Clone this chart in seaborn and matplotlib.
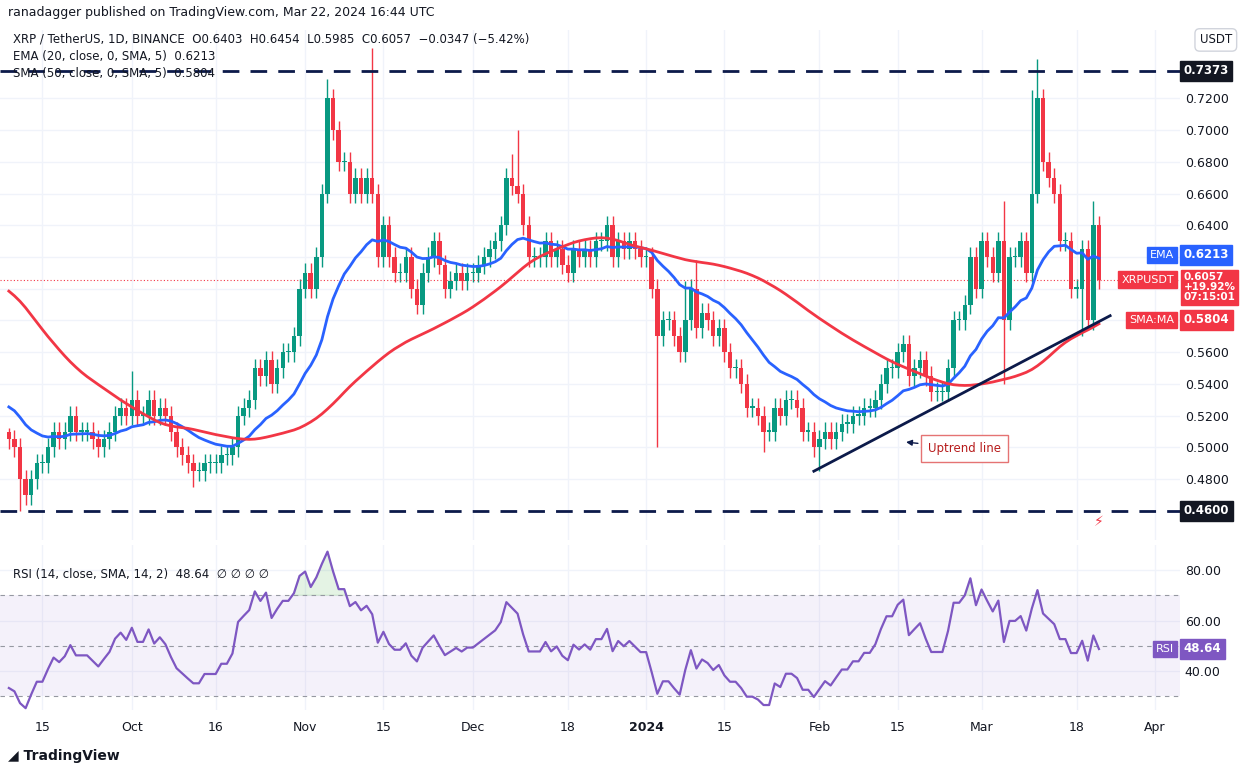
import numpy as np
import pandas as pd
import matplotlib
matplotlib.use("Agg")
import matplotlib.pyplot as plt
import matplotlib.dates as mdates
import seaborn as sns

# ---------------- data ----------------
pre_closes = [0.74, 0.72, 0.71, 0.71, 0.70, 0.72, 0.71, 0.70, 0.69, 0.70, 0.70, 0.68,
              0.63, 0.63, 0.62, 0.63, 0.64, 0.62, 0.63, 0.63, 0.64, 0.62, 0.63, 0.63,
              0.62, 0.61, 0.60, 0.59, 0.50, 0.52, 0.53, 0.53, 0.54, 0.53, 0.53, 0.52,
              0.53, 0.52, 0.52, 0.53, 0.54, 0.52, 0.51, 0.51, 0.50, 0.51, 0.50, 0.50,
              0.51, 0.51]
closes = [
    0.505, 0.50, 0.48, 0.47, 0.48, 0.49,
    0.49, 0.50, 0.51, 0.505, 0.51, 0.52, 0.51, 0.51, 0.51, 0.505, 0.50, 0.505, 0.51, 0.52, 0.525, 0.52,
    0.53, 0.52, 0.52, 0.53, 0.52, 0.525, 0.52, 0.51, 0.50, 0.495, 0.49, 0.485, 0.485, 0.49, 0.49,
    0.49, 0.495, 0.495, 0.50, 0.52, 0.525, 0.53, 0.55, 0.545, 0.555, 0.54, 0.55, 0.56, 0.56, 0.57, 0.60,
    0.61, 0.60, 0.62, 0.66, 0.72, 0.70, 0.68, 0.68, 0.66, 0.67, 0.66, 0.67, 0.66, 0.62, 0.64,
    0.62, 0.61, 0.61, 0.62, 0.60, 0.59, 0.61, 0.62, 0.63, 0.615, 0.60, 0.605, 0.61, 0.605, 0.61,
    0.61, 0.615, 0.62, 0.625, 0.63, 0.64, 0.67, 0.665, 0.66, 0.64, 0.62, 0.62, 0.62, 0.63, 0.62,
    0.625, 0.615, 0.61, 0.625, 0.62, 0.625, 0.62, 0.63, 0.63, 0.64, 0.62, 0.63, 0.625, 0.63, 0.625, 0.62,
    0.62, 0.60, 0.57, 0.58, 0.58, 0.57, 0.56, 0.58, 0.60, 0.575, 0.585, 0.58, 0.57, 0.575, 0.56,
    0.55, 0.55, 0.54, 0.525, 0.525, 0.52, 0.51, 0.51, 0.525, 0.52, 0.53, 0.53, 0.525, 0.51, 0.51, 0.50,
    0.505, 0.51, 0.505, 0.51, 0.515, 0.515, 0.52, 0.52, 0.525, 0.525, 0.53, 0.54, 0.55, 0.55, 0.56,
    0.565, 0.545, 0.55, 0.555, 0.545, 0.535, 0.535, 0.535, 0.55, 0.58, 0.58, 0.59, 0.62, 0.60,
    0.63, 0.62, 0.61, 0.63, 0.58, 0.62, 0.62, 0.63, 0.61, 0.66, 0.72, 0.68, 0.67, 0.66, 0.63, 0.63,
    0.60, 0.60, 0.625, 0.58, 0.64, 0.6057]
spike_high = {"2023-09-09": 0.512, "2023-10-01": 0.548, "2023-11-05": 0.732, "2023-11-13": 0.752,
              "2023-12-09": 0.70, "2023-12-08": 0.685, "2024-01-08": 0.605, "2024-01-10": 0.618,
              "2024-03-11": 0.745, "2024-03-10": 0.725, "2024-03-05": 0.655, "2024-03-21": 0.655}
spike_low = {"2023-09-11": 0.46, "2023-10-12": 0.475, "2024-01-03": 0.50, "2024-01-22": 0.497,
             "2024-02-01": 0.485, "2024-03-05": 0.54, "2024-03-19": 0.57}
start_date = "2023-09-09"
pre_start = "2023-07-21"
last_rsi_label = "48.64"

# ---------------- frame ----------------
dates = pd.date_range(start_date, periods=len(closes), freq="D")
pre_dates = pd.date_range(pre_start, periods=len(pre_closes), freq="D")
allc = pd.Series(pre_closes + closes, index=pre_dates.append(dates))
ema = allc.ewm(span=20, adjust=False).mean()
sma50 = allc.rolling(50, min_periods=1).mean()
sma = sma50.rolling(5, min_periods=1).mean()
delta = allc.diff()
up = delta.clip(lower=0).ewm(alpha=1/14, adjust=False).mean()
dn = (-delta.clip(upper=0)).ewm(alpha=1/14, adjust=False).mean()
rsi = 100 - 100 / (1 + up / dn)

df = pd.DataFrame({"date": dates, "close": closes})
df["open"] = allc.shift(1).loc[dates].values
wick = 0.006
df["high"] = np.maximum(df.open, df.close) + wick
df["low"] = np.minimum(df.open, df.close) - wick
for d, v in spike_high.items():
    df.loc[df.date == pd.Timestamp(d), "high"] = v
for d, v in spike_low.items():
    df.loc[df.date == pd.Timestamp(d), "low"] = v
lines = pd.DataFrame({"date": dates, "ema": ema.loc[dates].values,
                      "sma": sma.loc[dates].values, "rsi": rsi.loc[dates].values})

# ---------------- figure ----------------
UP, DN = "#089981", "#F23645"
fig = plt.figure(figsize=(12.56, 7.68), dpi=100)
ax = fig.add_axes([0.0, 0.297, 0.9395, 0.664])
ax2 = fig.add_axes([0.0, 0.0755, 0.9395, 0.2148], sharex=ax)
for a in (ax, ax2):
    a.yaxis.tick_right()
    for s in a.spines.values():
        s.set_visible(False)
    a.tick_params(length=0, labelsize=9, colors="#131722")
    a.grid(True, color="#f0f3fa", lw=1)
    a.set_axisbelow(True)

x = mdates.date2num(df.date)
col = np.where(df.close >= df.open, UP, DN)
ax.vlines(x, df.low, df.high, colors=col, lw=1, zorder=2)
body = np.maximum(np.abs(df.close - df.open), 0.0008)
ax.bar(x, body, bottom=np.minimum(df.open, df.close), width=0.8, color=col, zorder=3)
sns.lineplot(data=lines, x="date", y="ema", ax=ax, color="#2962FF", lw=2, zorder=4)
sns.lineplot(data=lines, x="date", y="sma", ax=ax, color="#F23645", lw=2, zorder=4)

ax.axhline(0.7373, color="#0c1a4a", lw=2, ls=(0, (6, 4)))
ax.axhline(0.46, color="#0c1a4a", lw=2, ls=(0, (6, 4)))
ax.axhline(0.6057, color=DN, lw=0.8, ls=(0, (1, 2)))
ax.plot([mdates.datestr2num("2024-01-31"), mdates.datestr2num("2024-03-24")],
        [0.485, 0.583], color="#0c1a4a", lw=2, zorder=5)
ax.annotate("Uptrend line", xy=(mdates.datestr2num("2024-02-16"), 0.5035),
            xytext=(mdates.datestr2num("2024-02-27"), 0.4995), fontsize=8.5, color="#b71c1c",
            ha="center", va="center",
            bbox=dict(boxstyle="square,pad=0.6", fc="white", ec="#e57373", lw=1),
            arrowprops=dict(arrowstyle="-|>", color="#0c1a4a", lw=1))
ax.text(mdates.datestr2num("2024-03-22"), 0.4528, "⚡", fontsize=10, color=DN, ha="center", va="center")

ax.set_xlim(mdates.datestr2num("2023-09-07 10:00"), mdates.datestr2num("2024-04-05 12:00"))
ax.set_ylim(0.4417, 0.7631)
yt = [0.48, 0.50, 0.52, 0.54, 0.56, 0.58, 0.60, 0.62, 0.64, 0.66, 0.68, 0.70, 0.72]
ax.set_yticks(yt)
ax.set_yticklabels([f"{v:.4f}" for v in yt])
ax.set_xlabel(""); ax.set_ylabel("")
plt.setp(ax.get_xticklabels(), visible=False)

def tag(a, y, text, fc, tc="white", size=8.5):
    a.text(1.003, y, text, transform=a.get_yaxis_transform(), fontsize=size, color=tc,
           va="center", ha="left", fontweight="bold",
           bbox=dict(boxstyle="square,pad=0.3", fc=fc, ec=fc))

tag(ax, 0.7373, "0.7373", "#131722")
tag(ax, 0.46, "0.4600", "#131722")
tag(ax, 0.6213, "0.6213", "#2962FF")
tag(ax, 0.5804, "0.5804", DN)
ax.text(1.003, 0.6008, "0.6057\n+19.92%\n07:15:01", transform=ax.get_yaxis_transform(),
        fontsize=7.5, color="white", va="center", ha="left", fontweight="bold", linespacing=1.0,
        bbox=dict(boxstyle="square,pad=0.2", fc=DN, ec=DN))
ax.text(0.995, 0.6213, "EMA", transform=ax.get_yaxis_transform(), fontsize=8, color="white",
        ha="right", va="center", bbox=dict(boxstyle="square,pad=0.3", fc="#2962FF", ec="#2962FF"))
ax.text(0.995, 0.6057, "XRPUSDT", transform=ax.get_yaxis_transform(), fontsize=8, color="white",
        ha="right", va="center", bbox=dict(boxstyle="square,pad=0.3", fc=DN, ec=DN))
ax.text(0.995, 0.5804, "SMA:MA", transform=ax.get_yaxis_transform(), fontsize=8, color="white",
        ha="right", va="center", bbox=dict(boxstyle="square,pad=0.3", fc=DN, ec=DN))

# RSI
ax2.axhspan(30, 70, color="#7E57C2", alpha=0.08, lw=0)
for lvl in (70, 50, 30):
    ax2.axhline(lvl, color="#9598a1", lw=0.8, ls=(0, (4, 4)))
sns.lineplot(data=lines, x="date", y="rsi", ax=ax2, color="#7E57C2", lw=1.6)
r = lines.rsi.values
ax2.fill_between(x, 70, r, where=r > 70, color="#4caf50", alpha=0.15, interpolate=True)
ax2.set_ylim(24.6, 89.9)
ax2.set_yticks([40, 60, 80]); ax2.set_yticklabels(["40.00", "60.00", "80.00"])
ax2.set_xlabel(""); ax2.set_ylabel("")
tag(ax2, rsi.iloc[-1], last_rsi_label, "#7E57C2")
ax2.text(0.995, rsi.iloc[-1], "RSI", transform=ax2.get_yaxis_transform(), fontsize=8,
         color="white", ha="right", va="center",
         bbox=dict(boxstyle="square,pad=0.3", fc="#7E57C2", ec="#7E57C2"))
ticks = ["2023-09-15", "2023-10-01", "2023-10-16", "2023-11-01", "2023-11-15", "2023-12-01",
         "2023-12-18", "2024-01-01", "2024-01-15", "2024-02-01", "2024-02-15", "2024-03-01",
         "2024-03-18", "2024-04-01"]
tlabels = ["15", "Oct", "16", "Nov", "15", "Dec", "18", "2024", "15", "Feb", "15", "Mar", "18", "Apr"]
ax2.set_xticks([mdates.datestr2num(t) for t in ticks])
ax2.set_xticklabels(tlabels)
for lab in ax2.get_xticklabels():
    if lab.get_text() == "2024":
        lab.set_fontweight("bold")
ax2.tick_params(axis="x", pad=8)

# header texts
fig.text(0.006, 0.984, "ranadagger published on TradingView.com, Mar 22, 2024 16:44 UTC",
         fontsize=9, color="#131722", va="center")
fig.text(0.01, 0.949, "XRP / TetherUS, 1D, BINANCE  O0.6403  H0.6454  L0.5985  C0.6057  −0.0347 (−5.42%)",
         fontsize=8.5, color="#131722", va="center")
fig.text(0.01, 0.926, "EMA (20, close, 0, SMA, 5)  0.6213", fontsize=8.5, color="#131722", va="center")
fig.text(0.01, 0.904, "SMA (50, close, 0, SMA, 5)  0.5804", fontsize=8.5, color="#131722", va="center")
fig.text(0.01, 0.252, "RSI (14, close, SMA, 14, 2)  48.64  ∅ ∅ ∅ ∅", fontsize=8.5, color="#131722", va="center")
fig.text(0.968, 0.948, "USDT", fontsize=8.5, color="#131722", ha="center", va="center",
         bbox=dict(boxstyle="round,pad=0.4", fc="white", ec="#d1d4dc"))
fig.text(0.006, 0.016, "◢ TradingView", fontsize=10, color="#131722", va="center", fontweight="bold")
fig.savefig("out.png", dpi=100, facecolor="white")
